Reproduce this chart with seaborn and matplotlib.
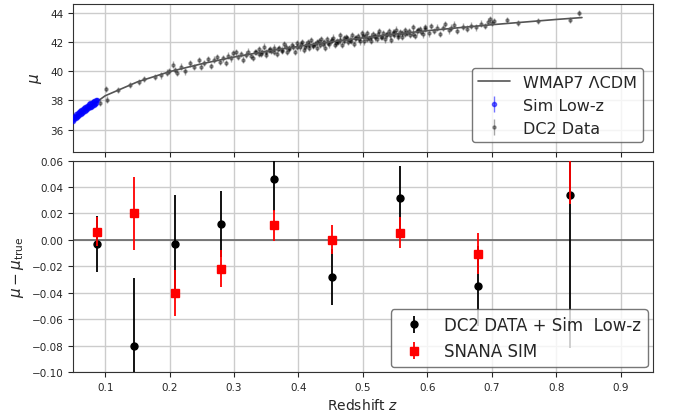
import numpy as np
import matplotlib
matplotlib.use('Agg')
import matplotlib.pyplot as plt
import seaborn as sns

# DATA
# WMAP7 LCDM curve
model_z = [0.05, 0.10, 0.15, 0.20, 0.25, 0.30, 0.35, 0.40, 0.45, 0.50,
           0.55, 0.60, 0.65, 0.70, 0.75, 0.80, 0.84]
model_mu = [36.74, 38.32, 39.27, 39.97, 40.51, 40.97, 41.36, 41.70, 42.01, 42.28,
            42.54, 42.77, 42.98, 43.18, 43.36, 43.54, 43.67]

# Sim Low-z points
lowz_z = [0.050, 0.051, 0.052, 0.053, 0.054, 0.055, 0.056, 0.057, 0.058, 0.059,
          0.060, 0.061, 0.062, 0.063, 0.064, 0.065, 0.066, 0.067, 0.068, 0.069,
          0.070, 0.071, 0.072, 0.073, 0.074, 0.075, 0.076, 0.077, 0.078, 0.079,
          0.080, 0.081, 0.082, 0.083, 0.084, 0.085, 0.086, 0.087]
lowz_mu = [36.60, 36.90, 36.70, 36.95, 36.78, 37.05, 36.88, 37.12, 36.95, 37.20,
           37.00, 37.28, 37.08, 37.32, 37.15, 37.42, 37.22, 37.48, 37.28, 37.55,
           37.35, 37.60, 37.40, 37.65, 37.48, 37.75, 37.52, 37.80, 37.58, 37.85,
           37.65, 37.92, 37.70, 37.98, 37.75, 38.05, 37.82, 38.00]
lowz_err = 0.15

# DC2 data points
dc2_z = [0.092, 0.101, 0.103, 0.120, 0.138, 0.152, 0.160, 0.178, 0.186, 0.196, 0.199,
         0.205, 0.208, 0.212, 0.218, 0.224, 0.231, 0.238, 0.245, 0.249, 0.254,
         0.260, 0.264, 0.269, 0.273, 0.278, 0.283, 0.287, 0.291, 0.295, 0.299,
         0.303, 0.306, 0.310, 0.314, 0.318, 0.322, 0.326, 0.330, 0.334, 0.338,
         0.342, 0.346, 0.350, 0.354, 0.358, 0.362, 0.366, 0.370, 0.374, 0.378,
         0.382, 0.386, 0.390, 0.394, 0.398,
         0.402, 0.405, 0.408, 0.411, 0.414, 0.417, 0.420, 0.423, 0.426, 0.429,
         0.432, 0.435, 0.438, 0.441, 0.444, 0.447, 0.450, 0.453, 0.456, 0.459,
         0.462, 0.465, 0.468, 0.471, 0.474, 0.477, 0.480, 0.483, 0.486, 0.489,
         0.492, 0.495, 0.498,
         0.501, 0.504, 0.507, 0.510, 0.513, 0.516, 0.519, 0.522, 0.525, 0.528,
         0.531, 0.534, 0.537, 0.540, 0.543, 0.546, 0.549, 0.552, 0.555, 0.558,
         0.561, 0.565, 0.569, 0.573, 0.577, 0.581, 0.585, 0.589, 0.593, 0.597,
         0.602, 0.606, 0.610, 0.615, 0.619, 0.624, 0.628, 0.633, 0.637, 0.642, 0.646,
         0.655, 0.662, 0.668, 0.675, 0.683, 0.690, 0.694, 0.697, 0.700, 0.703,
         0.724, 0.741, 0.772, 0.821, 0.836,
         0.332, 0.338, 0.344, 0.350, 0.356, 0.362, 0.368, 0.374, 0.380, 0.386,
         0.392, 0.398, 0.404, 0.410, 0.416, 0.422, 0.428, 0.434, 0.440, 0.446,
         0.452, 0.458, 0.464, 0.470, 0.476, 0.482, 0.488, 0.494, 0.500, 0.506,
         0.512, 0.518, 0.524, 0.530, 0.536, 0.542, 0.548, 0.554, 0.560, 0.566,
         0.572, 0.578, 0.584, 0.590, 0.596]
dc2_mu = [37.85, 38.80, 38.05, 38.72, 39.05, 39.25, 39.45, 39.62, 39.72, 39.90, 40.02,
          40.45, 40.10, 39.88, 40.32, 39.98, 40.53, 40.30, 40.76, 40.32, 40.57,
          40.82, 40.37, 40.80, 40.98, 40.62, 40.87, 40.55, 41.07, 40.88, 41.24,
          41.29, 40.97, 41.17, 40.80, 41.13, 41.34, 41.03, 40.89, 41.32, 41.52,
          41.20, 41.68, 41.14, 41.44, 41.39, 41.62, 41.17, 41.60, 41.40, 41.83,
          41.33, 41.60, 41.78, 41.31, 41.91,
          41.63, 41.99, 41.45, 41.82, 41.97, 41.61, 42.15, 41.72, 41.88, 41.61,
          42.04, 42.22, 41.89, 41.61, 42.19, 41.84, 42.09, 42.30, 41.80, 42.06,
          41.98, 42.45, 41.81, 42.25, 42.34, 41.98, 42.16, 42.48, 41.88, 42.28,
          42.40, 42.04, 42.59,
          42.04, 42.40, 42.63, 42.27, 42.05, 42.56, 42.40, 42.21, 42.75, 42.33,
          42.59, 42.18, 42.52, 42.74, 42.15, 42.64, 42.50, 42.85, 42.36, 42.66,
          42.33, 42.83, 42.63, 42.50, 43.00, 42.39, 42.81, 42.90, 42.52, 43.03,
          42.58, 43.08, 42.76, 42.98, 42.55, 42.97, 43.21, 42.79, 42.98, 43.19, 42.78,
          43.05, 42.92, 43.12, 43.00, 43.25, 43.10, 43.40, 43.55, 43.30, 43.45,
          43.52, 43.30, 43.42, 43.52, 43.98,
          41.30, 41.17, 41.33, 41.31, 41.52, 41.34, 41.50, 41.47, 41.68, 41.50,
          41.67, 41.64, 41.84, 41.66, 41.82, 41.79, 41.99, 41.81, 41.97, 41.94,
          42.14, 41.95, 42.11, 42.07, 42.27, 42.09, 42.24, 42.20, 42.40, 42.21,
          42.36, 42.32, 42.52, 42.34, 42.49, 42.45, 42.65, 42.46, 42.61, 42.57,
          42.76, 42.57, 42.72, 42.68, 42.87]
dc2_err = 0.22

# Binned residuals
bin_z = [0.087, 0.144, 0.209, 0.280, 0.362, 0.452, 0.557, 0.679, 0.822]
dc2_res = [-0.003, -0.080, -0.003, 0.012, 0.046, -0.028, 0.032, -0.035, 0.034]
dc2_res_err = [0.021, 0.051, 0.037, 0.025, 0.024, 0.021, 0.024, 0.030, 0.116]
snana_res = [0.006, 0.020, -0.040, -0.022, 0.011, 0.000, 0.0055, -0.0105, 0.070]
snana_res_err = [0.011, 0.0275, 0.0175, 0.014, 0.0115, 0.011, 0.012, 0.0155, 0.043]

sns.set_style('ticks')
plt.rcParams['font.family'] = ['DejaVu Sans']

fig = plt.figure(figsize=(6.73, 4.14), dpi=100)
gs = fig.add_gridspec(2, 1, height_ratios=[148, 212], hspace=0.05,
                      left=0.1085, right=0.970, top=0.988, bottom=0.099)
ax1 = fig.add_subplot(gs[0])
ax2 = fig.add_subplot(gs[1], sharex=ax1)

# top panel: Hubble diagram
sns.lineplot(x=model_z, y=model_mu, ax=ax1, color='#555555', linewidth=1.2,
             label=u'WMAP7 \u039bCDM', zorder=3)
ax1.errorbar(lowz_z, lowz_mu, yerr=lowz_err, fmt='.', color='blue', alpha=0.55,
             markersize=6, elinewidth=1, label='Sim Low-z', zorder=4)
ax1.errorbar(dc2_z, dc2_mu, yerr=dc2_err, fmt='.', color='black', alpha=0.35,
             markersize=4.5, elinewidth=1, label='DC2 Data', zorder=2)
ax1.set_ylim(34.5, 44.6)
ax1.set_yticks([36, 38, 40, 42, 44])
ax1.set_ylabel(r'$\mu$', fontsize=11)
ax1.grid(True, color='#cccccc', linewidth=1)
ax1.tick_params(labelbottom=False, labelsize=7.5)
ax1.legend(loc='lower right', fontsize=11.5, frameon=True, edgecolor='#555555',
           fancybox=True, borderaxespad=0.6)

# bottom panel: residuals
ax2.axhline(0, color='#666666', linewidth=1.2, zorder=1)
ax2.errorbar(bin_z, dc2_res, yerr=dc2_res_err, fmt='o', color='black',
             markersize=5, elinewidth=1.3, label='DC2 DATA + Sim  Low-z', zorder=3)
ax2.errorbar(bin_z, snana_res, yerr=snana_res_err, fmt='s', color='red',
             markersize=6, elinewidth=1.3, label='SNANA SIM', zorder=4)
ax2.set_ylim(-0.10, 0.06)
ax2.set_yticks(np.arange(-0.10, 0.061, 0.02))
ax2.set_xlim(0.05, 0.95)
ax2.set_xticks([0.1, 0.2, 0.3, 0.4, 0.5, 0.6, 0.7, 0.8, 0.9])
ax2.set_ylabel(r'$\mu - \mu_{\rm true}$', fontsize=11)
ax2.set_xlabel(r'Redshift $z$', fontsize=10)
ax2.grid(True, color='#cccccc', linewidth=1)
ax2.tick_params(labelsize=7.5)
ax2.legend(loc='lower right', fontsize=12, frameon=True, edgecolor='#555555',
           fancybox=True, borderaxespad=0.3)

for ax in (ax1, ax2):
    for s in ax.spines.values():
        s.set_color('#333333')

fig.savefig('out.png', dpi=100)
